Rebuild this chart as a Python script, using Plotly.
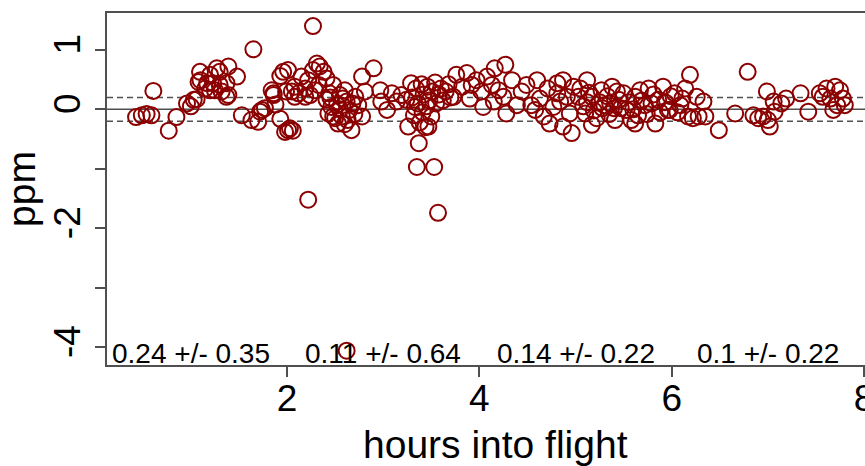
import plotly.graph_objects as go

# ---- data ----
hours = [
    0.43, 0.49, 0.54, 0.59, 0.61, 0.77, 0.85, 0.96, 1.00, 1.03, 1.06,
    1.08, 1.095, 1.10, 1.15, 1.17, 1.20, 1.20, 1.23, 1.25, 1.27, 1.30, 1.30, 1.32,
    1.37, 1.37, 1.39, 1.39, 1.48,
    1.53, 1.63, 1.65, 1.70, 1.72, 1.74, 1.77, 1.84, 1.86, 1.86, 1.88, 1.93, 1.93,
    1.96, 1.98, 1.99, 2.01, 2.01, 2.03, 2.06,
    2.05, 2.08, 2.08, 2.12, 2.15, 2.19, 2.19, 2.22, 2.22, 2.24, 2.27, 2.27, 2.29,
    2.31, 2.33, 2.34, 2.38, 2.41, 2.41, 2.43, 2.44, 2.45, 2.46, 2.48, 2.48, 2.50,
    2.52, 2.53, 2.55, 2.55, 2.57, 2.58, 2.60, 2.60, 2.62, 2.62, 2.63, 2.65, 2.67,
    2.68, 2.70, 2.71, 2.74, 2.78, 2.78, 2.81, 2.90, 2.97, 2.98,
    3.04, 3.09, 3.14, 3.19, 3.24, 3.26, 3.29, 3.30, 3.32, 3.33, 3.34, 3.35, 3.36,
    3.37, 3.38, 3.40, 3.41, 3.42, 3.44, 3.45, 3.46, 3.47, 3.48, 3.50, 3.51, 3.53,
    3.54, 3.55, 3.57, 3.58, 3.60, 3.62, 3.65, 3.68, 3.70,
    3.73, 3.76, 3.82, 3.87, 3.90, 3.92, 3.97, 4.02, 4.04, 4.08, 4.13, 4.15, 4.16,
    4.20, 4.25, 4.27, 4.28, 4.34, 4.39, 4.44, 4.49,
    4.54, 4.58, 4.60, 4.63, 4.67, 4.71, 4.73, 4.77, 4.81, 4.81, 4.84, 4.87, 4.87,
    4.91, 4.94, 4.96, 4.98,
    5.03, 5.05, 5.08, 5.10, 5.12, 5.12, 5.14, 5.17, 5.17, 5.19, 5.22, 5.25, 5.27,
    5.28, 5.30, 5.33, 5.35, 5.36, 5.38, 5.40, 5.41, 5.43, 5.45, 5.47, 5.50, 5.53,
    5.55, 5.58, 5.60, 5.62, 5.62, 5.65, 5.67, 5.69, 5.72, 5.74, 5.76, 5.79, 5.81,
    5.83, 5.86, 5.88, 5.91, 5.93, 5.96, 5.98, 5.99,
    6.03, 6.06, 6.09, 6.11, 6.14, 6.17, 6.19, 6.22, 6.26, 6.28, 6.33, 6.35, 6.49,
    6.66, 6.79, 6.85, 6.90, 6.95, 6.99, 7.00, 7.02, 7.06, 7.07, 7.14, 7.19, 7.34,
    7.42, 7.54, 7.57, 7.61, 7.65, 7.68, 7.70, 7.72, 7.75, 7.78, 7.80,
]
ppm = [
    -0.13, -0.10, -0.08, -0.10, 0.31, -0.36, -0.13, 0.10, 0.05, 0.16, 0.17,
    0.46, 0.63, 0.49, 0.35, 0.44, 0.58, 0.32, 0.44, 0.32, 0.69, 0.63, 0.41, 0.30,
    0.44, 0.21, 0.72, 0.24, 0.55,
    -0.10, -0.18, 1.01, -0.21, -0.04, -0.01, 0.02, 0.32, 0.24, 0.27, 0.08, -0.16, 0.56,
    0.63, -0.38, 0.30, 0.66, -0.35, -0.32, -0.36,
    0.30, 0.38, 0.21, 0.27, 0.55, 0.35, 0.21, 0.49, -1.52, 0.24, 0.66, 1.40, 0.32,
    0.77, 0.41, 0.72, 0.63, 0.52, 0.16, -0.07, 0.27, 0.20, 0.04, 0.41, -0.12, -0.15,
    0.07, -0.24, 0.24, 0.00, -0.12, 0.18, 0.32, -0.25, 0.13, -4.06, -0.18, -0.01, -0.35,
    0.10, -0.08, 0.21, 0.07, -0.12, 0.55, 0.30, 0.69, 0.32, 0.13,
    -0.01, 0.27, 0.13, 0.24, 0.16, -0.29, 0.44, 0.20, -0.10, 0.04, 0.35, -0.97, 0.10,
    -0.57, -0.22, 0.42, -0.05, 0.25, -0.30, 0.05, 0.38, -0.29, 0.15, -0.12, 0.30, -0.97,
    0.45, 0.10, -1.74, 0.25, 0.35, 0.15, 0.30, 0.42, 0.20,
    0.21, 0.58, 0.38, 0.61, 0.18, 0.41, 0.49, 0.30, 0.04, 0.55, 0.41, 0.13, 0.69,
    0.32, 0.21, 0.75, -0.07, 0.49, 0.07, 0.30, 0.41,
    0.07, -0.01, 0.49, 0.18, -0.12, 0.35, -0.24, 0.04, 0.44, 0.27, 0.13, 0.49, -0.29,
    0.21, -0.07, -0.40, 0.38,
    0.21, 0.35, 0.05, -0.07, 0.49, 0.12, 0.28, 0.21, -0.26, -0.02, -0.15, 0.12, 0.32,
    0.02, 0.07, 0.22, -0.08, 0.10, 0.38, 0.02, -0.18, 0.30, 0.16, 0.02, 0.27, -0.01,
    0.12, -0.18, 0.00, 0.21, -0.24, -0.10, 0.32, 0.15, 0.07, -0.08, 0.35, 0.10, 0.25,
    -0.24, 0.16, -0.05, 0.38, 0.12, -0.01, -0.01, 0.22,
    0.27, -0.05, 0.07, 0.18, 0.35, -0.12, 0.58, -0.15, 0.21, -0.12, 0.13, -0.12, -0.35,
    -0.07, 0.63, -0.10, -0.15, -0.12, 0.30, -0.18, -0.29, 0.13, -0.04, 0.10, 0.18, 0.27,
    -0.04, 0.27, 0.21, 0.35, 0.18, -0.01, 0.38, 0.07, 0.32, 0.18, 0.07,
]
ref_lines = [0.0]
band_lines = [0.2, -0.2]
seg_centers = [1, 3, 5, 7]
seg_labels = ["0.24 +/- 0.35", "0.11 +/- 0.64", "0.14 +/- 0.22", "0.1 +/- 0.22"]
x_ticks = [2, 4, 6, 8]
y_ticks = [-4, -3, -2, -1, 0, 1]
y_ticktext = ["-4", "", "-2", "", "0", "1"]
x_title = "hours into flight"
y_title = "ppm"

FONT = "Liberation Sans, Arial, Helvetica, sans-serif"
RED = "#8B0000"
LINE = "#505050"

fig = go.Figure()
fig.add_trace(go.Scatter(
    x=hours, y=ppm, mode="markers",
    marker=dict(symbol="circle-open", size=16, color=RED, line=dict(width=2, color=RED)),
    hoverinfo="x+y", showlegend=False,
))

for v in ref_lines:
    fig.add_hline(y=v, line=dict(color=LINE, width=1.5), layer="below")
for v in band_lines:
    fig.add_hline(y=v, line=dict(color=LINE, width=1.5, dash="6px,4px"), layer="below")

for xc, t in zip(seg_centers, seg_labels):
    fig.add_annotation(x=xc, y=-4.11, text=t, showarrow=False, xanchor="center",
                       yanchor="middle", font=dict(family=FONT, size=28, color="black"))

# x-axis title (centred like R's full plot region, which extends past the window)
fig.add_annotation(x=0.513, xref="paper", y=0, yref="paper", yshift=-79,
                   text=x_title, showarrow=False, xanchor="center", yanchor="middle",
                   font=dict(family=FONT, size=39, color="black"))

fig.update_layout(
    width=865, height=466,
    margin=dict(l=107, r=0, t=13, b=101),
    paper_bgcolor="white", plot_bgcolor="white",
    font=dict(family=FONT, size=37, color="black"),
    xaxis=dict(
        range=[0.128, 8.01], tickvals=x_ticks, ticks="outside", ticklen=10,
        tickwidth=1.5, tickcolor=LINE, showgrid=False, zeroline=False,
        showline=True, linecolor=LINE, linewidth=2, mirror=True, automargin=False,
        tickfont=dict(family=FONT, size=37), ticklabeloverflow="allow",
        ticklabelstandoff=-10,
    ),
    yaxis=dict(
        range=[-4.30, 1.62], tickvals=y_ticks, ticktext=y_ticktext, ticks="outside",
        ticklen=10, tickwidth=1.5, tickcolor=LINE, tickangle=-90, automargin=False,
        showgrid=False, zeroline=False, showline=True, linecolor=LINE, linewidth=2,
        mirror=False, tickfont=dict(family=FONT, size=37),
        title=dict(text=y_title, font=dict(family=FONT, size=39), standoff=8),
    ),
)

fig.write_html("out.html")
